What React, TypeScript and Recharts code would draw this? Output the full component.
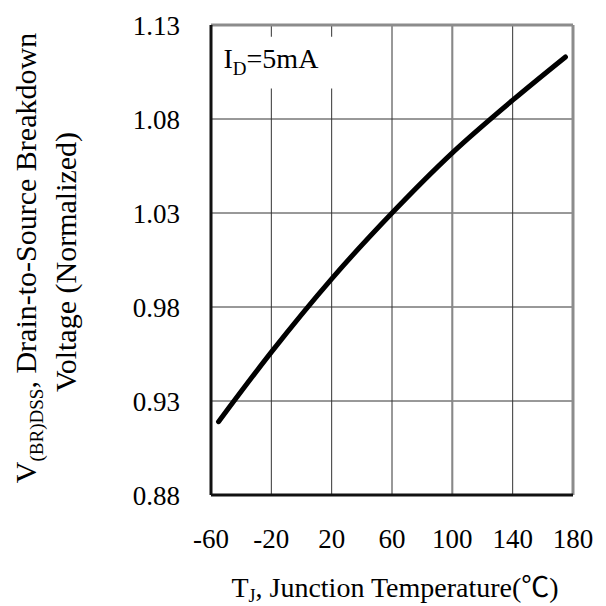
import React from "react";
import {
  LineChart,
  Line,
  XAxis,
  YAxis,
  CartesianGrid,
  ReferenceLine,
  ReferenceArea,
} from "recharts";

const FONT = "Liberation Serif, Times New Roman, Noto Sans CJK SC, serif";

// junction temperature (°C) and normalized breakdown voltage
const temps = [-55, -20, 20, 60, 100, 140, 175];
const voltages = [0.919, 0.956, 0.995, 1.03, 1.062, 1.09, 1.113];

const xTicks = [-60, -20, 20, 60, 100, 140, 180];
const yTicks = [0.88, 0.93, 0.98, 1.03, 1.08, 1.13];

const data = temps.map((t, i) => ({ t, v: voltages[i] }));

const txt = { fontFamily: FONT };

const XTick = (props: any) => {
  const { x, y, payload } = props;
  return (
    <text x={x} y={y + 53} textAnchor="middle" fontSize={27} style={txt} fill="#000">
      {payload.value}
    </text>
  );
};

const YTick = (props: any) => {
  const { x, y, payload } = props;
  return (
    <text x={x - 31} y={y + 10} textAnchor="end" fontSize={27} style={txt} fill="#000">
      {Number(payload.value).toFixed(2)}
    </text>
  );
};

const XTitle = () => (
  <text x={395} y={597} textAnchor="middle" fontSize={28} style={txt} fill="#000">
    T
    <tspan fontSize={18} dy={5}>J</tspan>
    <tspan dy={-5}>, Junction Temperature(℃)</tspan>
  </text>
);

const YTitle = () => (
  <g fill="#000">
    <text x={36} y={258} transform="rotate(-90, 36, 258)" textAnchor="middle" fontSize={30} style={txt}>
      V
      <tspan fontSize={19} dy={7}>(BR)DSS</tspan>
      <tspan dy={-7}>, Drain-to-Source Breakdown</tspan>
    </text>
    <text x={76} y={262} transform="rotate(-90, 76, 262)" textAnchor="middle" fontSize={30} style={txt}>
      Voltage (Normalized)
    </text>
  </g>
);

const CondLabel = (props: any) => {
  const vb = props.viewBox || { x: 212, y: 37 };
  return (
    <text x={vb.x + 11} y={vb.y + 31} fontSize={28} style={txt} fill="#000">
      I
      <tspan fontSize={19} dy={7}>D</tspan>
      <tspan dy={-7}>=5mA</tspan>
    </text>
  );
};

export default function App() {
  return (
    <div style={{ position: "absolute", left: 0, top: 0, width: 606, height: 606, background: "#fff" }}>
      <LineChart
        width={606}
        height={606}
        data={data}
        margin={{ top: 25, right: 33, bottom: 0, left: 0 }}
      >
        <CartesianGrid stroke="#333" strokeWidth={1} />
        <ReferenceArea
          x1={-59}
          x2={22}
          y1={1.0962}
          y2={1.1238}
          fill="#fff"
          fillOpacity={1}
          stroke="none"
          label={<CondLabel />}
        />
        <ReferenceLine x={100} stroke="#888" strokeWidth={2} />
        <ReferenceLine x={180} stroke="#8c8c8c" strokeWidth={3} />
        <ReferenceLine y={1.13} stroke="#8c8c8c" strokeWidth={3} />
        <XAxis
          dataKey="t"
          type="number"
          domain={[-60, 180]}
          ticks={xTicks}
          interval={0}
          height={111}
          tickSize={0}
          tickMargin={0}
          tickLine={false}
          axisLine={{ stroke: "#111", strokeWidth: 3 }}
          tick={<XTick />}
          label={<XTitle />}
        />
        <YAxis
          type="number"
          domain={[0.88, 1.13]}
          ticks={yTicks}
          interval={0}
          width={211}
          tickSize={0}
          tickMargin={0}
          tickLine={false}
          axisLine={{ stroke: "#111", strokeWidth: 3 }}
          tick={<YTick />}
          label={<YTitle />}
        />
        <Line
          type="monotone"
          dataKey="v"
          stroke="#000"
          strokeWidth={5}
          strokeLinecap="round"
          dot={false}
          isAnimationActive={false}
        />
      </LineChart>
    </div>
  );
}
